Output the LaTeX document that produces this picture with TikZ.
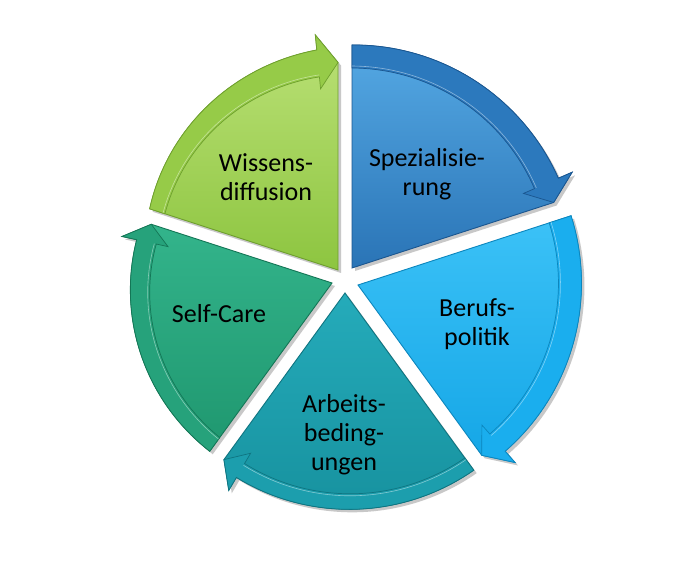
\documentclass[tikz,border=0pt]{standalone}
\usepackage{fontspec}
\setmainfont{Carlito}
\usetikzlibrary{shadows}
\definecolor{wTop}{HTML}{BBE177}\definecolor{wBot}{HTML}{8DC540}\definecolor{wBand}{HTML}{96CB48}\definecolor{wEdge}{HTML}{6E9F2E}
\definecolor{sTop}{HTML}{55A9E4}\definecolor{sBot}{HTML}{2A74B6}\definecolor{sBand}{HTML}{2C79BD}\definecolor{sEdge}{HTML}{1A5690}
\definecolor{bTop}{HTML}{3CC2F7}\definecolor{bBot}{HTML}{14A6E6}\definecolor{bBand}{HTML}{1AAEEE}\definecolor{bEdge}{HTML}{0C86BD}
\definecolor{aTop}{HTML}{25ABBA}\definecolor{aBot}{HTML}{17929F}\definecolor{aBand}{HTML}{1C9EAD}\definecolor{aEdge}{HTML}{0F7480}
\definecolor{cTop}{HTML}{33B48B}\definecolor{cBot}{HTML}{1F976F}\definecolor{cBand}{HTML}{26A27B}\definecolor{cEdge}{HTML}{147656}
\newcommand\pieseg[9]{%
  \pgfmathsetmacro\segAh{#4+5.5}%
  \pgfmathsetmacro\segRm{(#6+#8)/2}%
  \pgfmathsetmacro\segRob{#6+15}%
  \pgfmathsetmacro\segRib{#8-12}%
  \path[body#9] (#1,#2) -- ({#1+#5*cos(#3)},{#2+#5*sin(#3)})
    -- plot[domain=#3:\segAh, samples=40, variable=\t]
       ({#1+(#5+(#6-(#5))*(\t-(#3))/(\segAh-(#3)))*cos(\t)},{#2+(#5+(#6-(#5))*(\t-(#3))/(\segAh-(#3)))*sin(\t)})
    -- ({#1+\segRob*cos(\segAh)},{#2+\segRob*sin(\segAh)})
    -- ({#1+\segRm*cos(#4)},{#2+\segRm*sin(#4)}) -- cycle;
  \path[band#9] plot[domain=#3:\segAh, samples=40, variable=\t]
       ({#1+(#5+(#6-(#5))*(\t-(#3))/(\segAh-(#3)))*cos(\t)},{#2+(#5+(#6-(#5))*(\t-(#3))/(\segAh-(#3)))*sin(\t)})
    -- ({#1+\segRob*cos(\segAh)},{#2+\segRob*sin(\segAh)})
    -- ({#1+\segRm*cos(#4)},{#2+\segRm*sin(#4)})
    -- ({#1+\segRib*cos(\segAh)},{#2+\segRib*sin(\segAh)})
    -- plot[domain=\segAh:#3, samples=40, variable=\t]
       ({#1+(#7+(#8-(#7))*(\t-(#3))/(\segAh-(#3)))*cos(\t)},{#2+(#7+(#8-(#7))*(\t-(#3))/(\segAh-(#3)))*sin(\t)})
    -- cycle;
  \draw[white, opacity=0.45, line width=0.6pt] plot[domain=#3:\segAh, samples=40, variable=\t]
       ({#1+(#7+2+(#8-(#7))*(\t-(#3))/(\segAh-(#3)))*cos(\t)},{#2+(#7+2+(#8-(#7))*(\t-(#3))/(\segAh-(#3)))*sin(\t)});
}
\tikzset{
  segshadow/.style={drop shadow={shadow xshift=3pt, shadow yshift=-3pt, opacity=0.3, fill=black!70}},
  bodyW/.style={segshadow, top color=wTop, bottom color=wBot, draw=wEdge, line width=0.9pt},
  bandW/.style={fill=wBand, draw=wEdge, line width=0.7pt},
  bodyS/.style={segshadow, top color=sTop, bottom color=sBot, draw=sEdge, line width=0.9pt},
  bandS/.style={fill=sBand, draw=sEdge, line width=0.7pt},
  bodyB/.style={segshadow, top color=bTop, bottom color=bBot, draw=bEdge, line width=0.9pt},
  bandB/.style={fill=bBand, draw=bEdge, line width=0.7pt},
  bodyA/.style={segshadow, top color=aTop, bottom color=aBot, draw=aEdge, line width=0.9pt},
  bandA/.style={fill=aBand, draw=aEdge, line width=0.7pt},
  bodyC/.style={segshadow, top color=cTop, bottom color=cBot, draw=cEdge, line width=0.9pt},
  bandC/.style={fill=cBand, draw=cEdge, line width=0.7pt},
  lbl/.style={font=\fontsize{26}{29}\selectfont, align=center, text=black, inner sep=0pt}
}
\begin{document}
\begin{tikzpicture}[x=1pt,y=1pt]
  \fill[white] (0,0) rectangle (689,567);
  \useasboundingbox (0,0) rectangle (689,567);
  % Wissensdiffusion
  \pieseg{338}{297}{162}{90}{198}{221}{182}{194}{W}
  % Spezialisierung
  \pieseg{352}{299}{90}{18}{223}{225}{200}{199}{S}
  % Berufspolitik
  \pieseg{358}{282}{18}{-54}{224}{222}{201}{199}{B}
  % Arbeitsbedingungen
  \pieseg{345}{274}{-54}{-126}{219}{214}{204}{198}{A}
  % Self-Care
  \pieseg{332}{284}{234}{162}{208}{200}{191}{180}{C}
  \node[lbl] (wissen) at (266,389.5) {Wissens-\\diffusion};
  \node[lbl] (spez) at (427,392.5) {Spezialisie-\\rung};
  \node[lbl] (beruf) at (477,242.5) {Berufs-\\politik};
  \node[lbl] (arbeit) at (344,132.5) {Arbeits-\\beding-\\ungen};
  \node[lbl] (self) at (219,253) {Self-Care};
\end{tikzpicture}
\end{document}
